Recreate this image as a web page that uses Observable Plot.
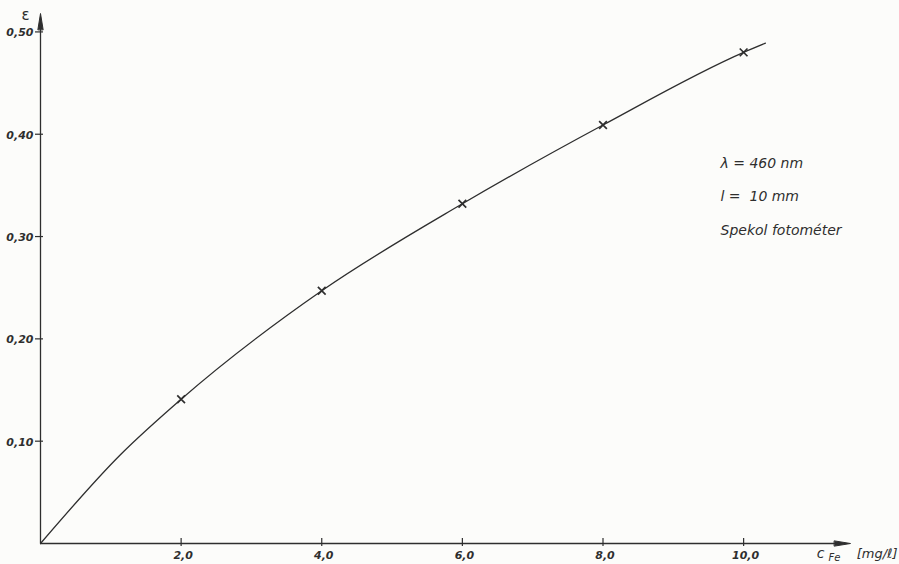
<!DOCTYPE html>
<html><head><meta charset="utf-8">
<script src="https://cdn.jsdelivr.net/npm/d3@7"></script>
<script src="https://cdn.jsdelivr.net/npm/@observablehq/plot@0.6"></script>
<style>
html,body{margin:0;padding:0;background:#fcfcfa;}
#chart{width:899px;height:564px;overflow:hidden;}
svg{overflow:visible;}
</style></head><body><div id="chart"></div>
<script>
// Measured points: c_Fe [mg/l] vs extinction ε
const concentration = [2, 4, 6, 8, 10];
const extinction = [0.141, 0.247, 0.332, 0.409, 0.480];
// Drawn calibration curve (from origin, through the points, slightly past the last one)
const curveC = [0, 1.14, 2, 4, 6, 8, 10, 10.31];
const curveE = [0, 0.087, 0.141, 0.247, 0.332, 0.409, 0.480, 0.489];
const xTicks = [2, 4, 6, 8, 10];
const xTickLabels = ["2,0", "4,0", "6,0", "8,0", "10,0"];
const yTicks = [0.1, 0.2, 0.3, 0.4, 0.5];
const yTickLabels = ["0,10", "0,20", "0,30", "0,40", "0,50"];
const xMax = 11.52, yMax = 0.518;
const notes = ["λ = 460 nm", "l =  10 mm", "Spekol fotométer"];

const ink = "#2e2e2e";
const font = "DejaVu Sans";
const points = concentration.map((c, i) => ({c, e: extinction[i]}));
const curve = curveC.map((c, i) => ({c, e: curveE[i]}));
const head = {draw(ctx, l, r) { ctx.moveTo(-r, 0); ctx.lineTo(0, -l); ctx.lineTo(r, 0); ctx.closePath(); }};

const chart = Plot.plot({
  width: 899, height: 564,
  marginLeft: 40, marginRight: 49, marginTop: 13, marginBottom: 21,
  x: {domain: [0, xMax], axis: null},
  y: {domain: [0, yMax], axis: null},
  style: {background: "transparent", color: ink, fontFamily: font},
  marks: [
    Plot.ruleY([0], {x1: 0, x2: xMax - 0.1, stroke: ink, strokeWidth: 1.3}),
    Plot.ruleX([0], {y1: 0, y2: yMax - 0.008, stroke: ink, strokeWidth: 1.3}),
    Plot.vector([{x: xMax, y: 0, r: 90}], {x: "x", y: "y", rotate: "r", anchor: "end", length: 16, r: 2.6, shape: head, fill: ink, stroke: ink, strokeWidth: 1}),
    Plot.vector([{x: 0, y: yMax, r: 0}], {x: "x", y: "y", rotate: "r", anchor: "end", length: 16, r: 2.6, shape: head, fill: ink, stroke: ink, strokeWidth: 1}),
    Plot.ruleX(xTicks, {x: d => d, y1: 0, y2: 0, insetTop: -5, insetBottom: -3, stroke: ink, strokeWidth: 1.2}),
    Plot.ruleY(yTicks, {y: d => d, x1: 0, x2: 0, insetLeft: -5, insetRight: -3, stroke: ink, strokeWidth: 1.2}),
    Plot.text(xTicks, {x: d => d, y: 0, text: (d, i) => xTickLabels[i], dy: 12, dx: 2, fontSize: 11, fontStyle: "italic", fontWeight: 600, fill: ink}),
    Plot.text(yTicks, {x: 0, y: d => d, text: (d, i) => yTickLabels[i], textAnchor: "end", dx: -7, dy: 1, fontSize: 11, fontStyle: "italic", fontWeight: 600, fill: ink}),
    Plot.line(curve, {x: "c", y: "e", curve: "monotone-x", stroke: ink, strokeWidth: 1.3}),
    Plot.dot(points, {x: "c", y: "e", symbol: "times", r: 3.6, stroke: ink, strokeWidth: 1.7}),
    Plot.text([notes.join("\n")], {frameAnchor: "top-right", text: d => d, textAnchor: "start", lineAnchor: "middle", lineHeight: 2.4, dx: -130, dy: 177, fontSize: 14, fontStyle: "italic", fill: ink}),
    Plot.text(["ε"], {x: 0, y: yMax, text: d => d, dx: -15, dy: 2, fontSize: 15, fill: ink}),
    Plot.text(["c"], {x: xMax, y: 0, text: d => d, dx: -30, dy: 10, fontSize: 14, fontStyle: "italic", fill: ink}),
    Plot.text(["Fe"], {x: xMax, y: 0, text: d => d, dx: -16, dy: 14, fontSize: 10, fontStyle: "italic", fill: ink}),
    Plot.text(["[mg/ℓ]"], {x: xMax, y: 0, text: d => d, textAnchor: "end", dx: 47, dy: 10, fontSize: 13, fontStyle: "italic", fill: ink})
  ]
});
document.getElementById("chart").append(chart);
</script></body></html>
